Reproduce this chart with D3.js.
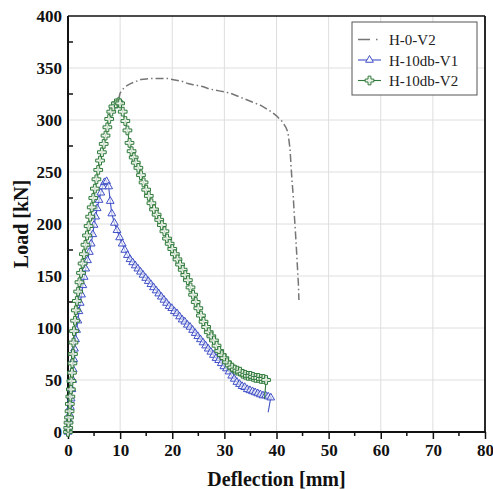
<!DOCTYPE html>
<html>
<head>
<meta charset="utf-8">
<script src="https://cdn.jsdelivr.net/npm/d3@7/dist/d3.min.js"></script>
<style>
  body { margin: 0; background: #fff; }
  text { font-family: "Liberation Serif", "Times New Roman", serif; }
</style>
</head>
<body>
<div id="chart"></div>
<script>
// series names
const seriesNames = ["H-0-V2", "H-10db-V1", "H-10db-V2"];

// tick values
const xTicks = [0, 10, 20, 30, 40, 50, 60, 70, 80];
const xMinor = [5, 15, 25, 35, 45, 55, 65, 75];
const yTicks = [0, 50, 100, 150, 200, 250, 300, 350, 400];
const yMinor = [25, 75, 125, 175, 225, 275, 325, 375];

// H-0-V2 (deflection mm, load kN)
const h0v2 = [
  [9.7,320],[10.0,326],[10.6,330],[11.3,333],[12.0,335],[13.0,337],[14.0,339],[15.0,339.5],
  [16.0,340],[17.0,340],[18.0,340],[19.0,340],[20.0,339],[21.0,338],[22.0,337],[23.0,335],
  [24.0,334],[25.0,333],[26.0,332],[27.0,330],[28.0,329],[29.0,328],[30.0,327],[31.0,326],
  [32.0,324],[33.0,322],[34.0,320],[35.0,318],[36.0,316],[37.0,314],[38.0,311],[39.0,308],
  [40.0,304],[41.0,299],[41.8,293],[42.2,288],[42.4,280],[42.6,272],[42.8,255],[43.0,240],
  [43.2,228],[43.4,210],[43.6,195],[43.8,178],[44.0,160],[44.2,142],[44.3,127]
];

// H-10db-V1
const h10v1 = [
  [0,0],[0.1,5],[0.2,11],[0.3,17],[0.45,24],[0.6,32],[0.75,41],[0.9,50],[1.0,60],[1.1,70],
  [1.25,80],[1.45,89],[1.65,98],[1.9,107],[2.1,116],[2.35,124],[2.6,132],[2.85,141],[3.1,149],
  [3.4,157],[3.75,165],[4.1,173],[4.45,181],[4.75,190],[5.0,199],[5.3,207],[5.6,215],[5.95,223],
  [6.3,230],[6.65,236],[7.0,240],[7.4,241],
  [7.8,236],[8.1,222],[8.4,210],[8.9,201],[9.4,194],[9.9,187],[10.4,181],[10.9,175],[11.4,170],
  [11.9,166],[12.4,163],[12.9,160],[13.4,157],[13.9,154],[14.4,151],[14.9,148],[15.4,145],
  [15.9,142],[16.4,139],[16.9,136],[17.4,133],[17.9,130],[18.4,127],[18.9,124],[19.4,121],
  [19.9,119],[20.4,116],[20.9,114],[21.4,111],[21.9,108],[22.4,106],[22.9,103],[23.4,101],
  [23.9,98],[24.4,95],[24.9,92],[25.4,89],[25.9,86],[26.4,83],[26.9,80],[27.4,77],[27.9,74],
  [28.4,71],[28.9,69],[29.4,66],[29.9,63],[30.4,61],[30.9,58],[31.4,54],[31.9,51],[32.4,48],
  [32.9,46],[33.4,44],[33.9,43],[34.4,41],[34.9,40],[35.4,39],[35.9,38],[36.4,37],[36.9,36],
  [37.4,35],[37.9,35],[38.4,34],[38.9,33],[38.4,19]
];

// H-10db-V2
const h10v2 = [
  [0,0],[0.05,4],[0.1,9],[0.2,14],[0.3,20],[0.35,27],[0.45,34],[0.55,41],[0.65,49],[0.75,57],
  [0.85,66],[0.95,75],[1.05,86],[1.15,97],[1.35,107],[1.5,117],[1.7,126],[1.95,135],[2.2,144],
  [2.5,153],[2.8,162],[3.05,171],[3.35,180],[3.65,189],[3.95,198],[4.25,207],[4.55,216],
  [4.85,225],[5.15,234],[5.45,243],[5.8,252],[6.15,261],[6.5,269],[6.85,277],[7.2,285],
  [7.55,293],[7.9,301],[8.3,308],[8.7,313],[9.2,316],[9.7,317],
  [10.0,316],[10.5,308],[11.0,299],[11.4,290],[11.8,278],[12.2,270],[12.6,264],[13.0,259],
  [13.5,254],[14.0,247],[14.5,240],[15.0,233],[15.5,227],[16.0,220],[16.5,214],[17.0,209],
  [17.5,204],[18.0,199],[18.5,193],[19.0,186],[19.5,181],[20.0,176],[20.5,171],[21.0,166],
  [21.5,161],[22.0,156],[22.5,151],[23.0,146],[23.5,139],[24.0,132],[24.5,125],[25.0,119],
  [25.5,112],[26.0,106],[26.5,101],[27.0,96],[27.5,92],[28.0,88],[28.5,83],[29.0,78],
  [29.5,74],[30.0,71],[30.5,67],[31.0,64],[31.5,62],[32.0,60],[32.5,59],[33.0,58],[33.5,56],
  [34.0,55],[34.5,54],[35.0,54],[35.5,53],[36.0,52],[36.5,52],[37.0,51],[37.5,51],[38.0,50],
  [37.7,32]
];

const gray = "#767676", blue = "#3f4fc6", green = "#2f7a3b";

// dimensions
var margin = {top: 16, right: 8, bottom: 57, left: 68},
    width = 493 - margin.left - margin.right,
    height = 489 - margin.top - margin.bottom;

let svg = d3.select("#chart")
    .append("svg")
    .attr("width", 493)
    .attr("height", 489);

let g = svg.append("g")
    .attr("transform", "translate(" + margin.left + "," + margin.top + ")");

var xScale = d3.scaleLinear().domain([0, 80]).range([0, width]);
var yScale = d3.scaleLinear().domain([0, 400]).range([height, 0]);

// grid
g.append("g").selectAll("line")
    .data(xTicks.slice(1, -1))
    .enter().append("line")
    .attr("x1", d => xScale(d)).attr("x2", d => xScale(d))
    .attr("y1", 0).attr("y2", height)
    .attr("stroke", "#dedede").attr("stroke-width", 1);
g.append("g").selectAll("line")
    .data(yTicks.slice(1, -1))
    .enter().append("line")
    .attr("y1", d => yScale(d)).attr("y2", d => yScale(d))
    .attr("x1", 0).attr("x2", width)
    .attr("stroke", "#dedede").attr("stroke-width", 1);

// x axis
var xAxis = g.append("g")
    .attr("transform", "translate(0," + height + ")")
    .call(d3.axisBottom(xScale).tickValues(xTicks).tickSizeInner(7).tickSizeOuter(0).tickPadding(5));
xAxis.select(".domain").remove();
xAxis.selectAll(".tick line").attr("stroke", "#111").attr("stroke-width", 1.5);
xAxis.selectAll("text")
    .style("font-family", "Liberation Serif")
    .style("font-size", "17px").style("font-weight", "bold").attr("fill", "#111");
g.append("g").selectAll("line")
    .data(xMinor)
    .enter().append("line")
    .attr("x1", d => xScale(d)).attr("x2", d => xScale(d))
    .attr("y1", height).attr("y2", height + 4)
    .attr("stroke", "#111").attr("stroke-width", 1.5);

// y axis
var yAxis = g.append("g")
    .call(d3.axisLeft(yScale).tickValues(yTicks).tickSize(0).tickPadding(6));
yAxis.select(".domain").remove();
yAxis.selectAll("text")
    .style("font-family", "Liberation Serif")
    .style("font-size", "17px").style("font-weight", "bold").attr("fill", "#111");
g.append("g").selectAll("line")
    .data(yMinor)
    .enter().append("line")
    .attr("y1", d => yScale(d)).attr("y2", d => yScale(d))
    .attr("x1", 0).attr("x2", 5)
    .attr("stroke", "#111").attr("stroke-width", 1.5);

// frame
g.append("line").attr("x1", 0).attr("x2", width).attr("y1", 0).attr("y2", 0)
    .attr("stroke", "#111").attr("stroke-width", 1.5);
g.append("line").attr("x1", width).attr("x2", width).attr("y1", 0).attr("y2", height)
    .attr("stroke", "#111").attr("stroke-width", 1.8);
g.append("line").attr("x1", 0).attr("x2", 0).attr("y1", 0).attr("y2", height + 1)
    .attr("stroke", "#111").attr("stroke-width", 2);
g.append("line").attr("x1", -1).attr("x2", width + 1).attr("y1", height).attr("y2", height)
    .attr("stroke", "#111").attr("stroke-width", 2);

// lines
const line = d3.line()
    .x(d => xScale(d[0]))
    .y(d => yScale(d[1]));

g.append("path").datum(h0v2)
    .attr("d", line).attr("fill", "none")
    .attr("stroke", gray).attr("stroke-width", 1.5)
    .attr("stroke-dasharray", "8,3,1.5,3");

const triangle = d3.symbol().type(d3.symbolTriangle).size(26);
const cross = d3.symbol().type(d3.symbolCross).size(42);

g.append("path").datum(h10v1)
    .attr("d", line).attr("fill", "none")
    .attr("stroke", blue).attr("stroke-width", 1.1);
g.append("g").selectAll("path")
    .data(h10v1.slice(0, -1))
    .enter().append("path")
    .attr("d", triangle)
    .attr("transform", d => "translate(" + xScale(d[0]) + "," + yScale(d[1]) + ")")
    .attr("fill", "#fff").attr("fill-opacity", 0.6)
    .attr("stroke", blue).attr("stroke-width", 1);

g.append("path").datum(h10v2)
    .attr("d", line).attr("fill", "none")
    .attr("stroke", green).attr("stroke-width", 1.1);
g.append("g").selectAll("path")
    .data(h10v2.slice(0, -1))
    .enter().append("path")
    .attr("d", cross)
    .attr("transform", d => "translate(" + xScale(d[0]) + "," + yScale(d[1]) + ")")
    .attr("fill", "#eef3ea").attr("fill-opacity", 0.8)
    .attr("stroke", green).attr("stroke-width", 1);

// axis titles
svg.append("text")
    .text("Deflection [mm]")
    .attr("x", margin.left + width / 2).attr("y", 486)
    .attr("text-anchor", "middle")
    .style("font-size", "20px").style("font-weight", "bold").attr("fill", "#111");
svg.append("text")
    .text("Load [kN]")
    .attr("transform", "translate(28," + (margin.top + height / 2) + ") rotate(-90)")
    .attr("text-anchor", "middle")
    .style("font-size", "20px").style("font-weight", "bold").attr("fill", "#111");

// legend
let legend = svg.append("g").attr("transform", "translate(352,22)");
legend.append("rect")
    .attr("width", 125).attr("height", 73)
    .attr("fill", "#fff").attr("stroke", "#555").attr("stroke-width", 1);
const rows = [
  {name: seriesNames[0], color: gray, sym: null},
  {name: seriesNames[1], color: blue, sym: triangle},
  {name: seriesNames[2], color: green, sym: cross}
];
rows.forEach((r, i) => {
  let yy = 17.5 + i * 20.5;
  if (r.sym) {
    legend.append("line").attr("x1", 6).attr("x2", 29).attr("y1", yy).attr("y2", yy)
        .attr("stroke", r.color).attr("stroke-width", 1.1);
    legend.append("path").attr("d", r.sym)
        .attr("transform", "translate(17.5," + yy + ")")
        .attr("fill", i == 2 ? "#eef3ea" : "#fff")
        .attr("stroke", r.color).attr("stroke-width", 1);
  } else {
    legend.append("line").attr("x1", 6).attr("x2", 29).attr("y1", yy).attr("y2", yy)
        .attr("stroke", r.color).attr("stroke-width", 1.5)
        .attr("stroke-dasharray", "12,6,1.5,10");
  }
  legend.append("text")
      .text(r.name)
      .attr("x", 37).attr("y", yy + 5.5)
      .style("font-size", "15px").attr("fill", "#222");
});
</script>
</body>
</html>
